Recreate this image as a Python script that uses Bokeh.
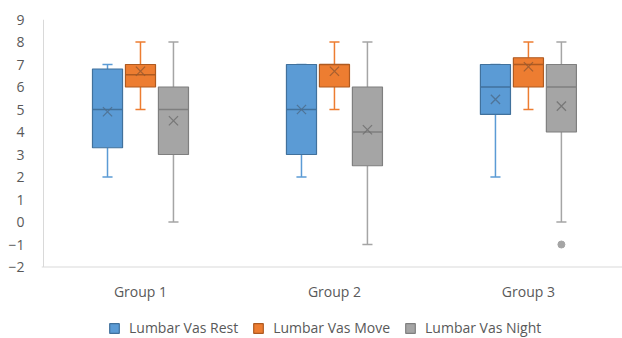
from bokeh.plotting import figure
from bokeh.models import Range1d, FixedTicker, Legend, LegendItem, Span
from bokeh.core.properties import value
from bokeh.embed import file_html
from bokeh.resources import INLINE

groups = ["Group 1", "Group 2", "Group 3"]
y_ticks = [9, 8, 7, 6, 5, 4, 3, 2, 1, 0, -1, -2]

rest_min = [2, 2, 2]
rest_q1 = [3.3, 3.0, 4.78]
rest_med = [5.0, 5.0, 6.0]
rest_q3 = [6.8, 7.0, 7.0]
rest_max = [7, 7, 7]
rest_mean = [4.9, 5.0, 5.45]

move_min = [5, 5, 5]
move_q1 = [6.0, 6.0, 6.0]
move_med = [6.55, 7.0, 7.0]
move_q3 = [7.0, 7.0, 7.3]
move_max = [8, 8, 8]
move_mean = [6.7, 6.7, 6.9]

night_min = [0, -1, 0]
night_q1 = [3.0, 2.5, 4.0]
night_med = [5.0, 4.0, 6.0]
night_q3 = [6.0, 6.0, 7.0]
night_max = [8, 8, 8]
night_mean = [4.5, 4.1, 5.15]
night_outlier_group = [2]
night_outlier_value = [-1]

series = [
    ("Lumbar Vas Rest", rest_min, rest_q1, rest_med, rest_q3, rest_max, rest_mean,
     "#5B9BD5", "#41719C", "#4E6E8E"),
    ("Lumbar Vas Move", move_min, move_q1, move_med, move_q3, move_max, move_mean,
     "#ED7D31", "#AE5A21", "#9A5A30"),
    ("Lumbar Vas Night", night_min, night_q1, night_med, night_q3, night_max, night_mean,
     "#A5A5A5", "#7F7F7F", "#707070"),
]

offsets = [-0.17, 0.0, 0.17]
box_w = 0.155
cap_w = 0.052
y_min, y_max = y_ticks[-1], y_ticks[0]
label_y = -3.07          # data position of the category labels below the axis
font = "Open Sans"
label_color = "#595959"
axis_color = "#D9D9D9"

# frame spans 41..622 px horizontally and 19..338 px vertically (22.5 px per unit)
p = figure(width=622, height=338, output_backend="svg", toolbar_location=None,
           x_range=Range1d(-0.0103, 2.985), y_range=Range1d(9 - 319 / 22.5, 9),
           min_border_left=41, min_border_right=0, min_border_top=19, min_border_bottom=0)
p.outline_line_color = None
p.xgrid.visible = False
p.ygrid.visible = False
p.xaxis.visible = False

p.yaxis.ticker = FixedTicker(ticks=y_ticks)
p.yaxis.major_tick_line_color = None
p.yaxis.minor_tick_line_color = None
p.yaxis.axis_line_color = None
p.yaxis.major_label_text_font = font
p.yaxis.major_label_text_font_size = "14px"
p.yaxis.major_label_text_color = label_color
p.yaxis.major_label_standoff = 11

# axis lines
p.add_layout(Span(location=y_min, dimension="width", line_color=axis_color, line_width=1))
p.segment(x0=[0], y0=[y_min], x1=[0], y1=[y_max], line_color=axis_color, line_width=1)

centers = [i + 0.5 for i in range(len(groups))]
p.text(x=centers, y=[label_y] * len(groups), text=groups, text_align="center",
       text_baseline="middle", text_font=value(font), text_font_size="14px",
       text_color=label_color)

items = []
for k, (name, mn, q1, md, q3, mx, mean, fill, edge, dark) in enumerate(series):
    xs = [c + offsets[k] for c in centers]
    p.segment(x0=xs, y0=q3, x1=xs, y1=mx, line_color=fill, line_width=1.5)
    p.segment(x0=xs, y0=q1, x1=xs, y1=mn, line_color=fill, line_width=1.5)
    p.segment(x0=[x - cap_w / 2 for x in xs], y0=mx, x1=[x + cap_w / 2 for x in xs], y1=mx,
              line_color=fill, line_width=1.5)
    p.segment(x0=[x - cap_w / 2 for x in xs], y0=mn, x1=[x + cap_w / 2 for x in xs], y1=mn,
              line_color=fill, line_width=1.5)
    r = p.vbar(x=xs, width=box_w, bottom=q1, top=q3, fill_color=fill, line_color=edge, line_width=1.2)
    p.segment(x0=[x - box_w / 2 for x in xs], y0=md, x1=[x + box_w / 2 for x in xs], y1=md,
              line_color=edge, line_width=1.5)
    p.scatter(x=xs, y=mean, marker="x", size=13, line_color=dark, line_width=1.3, line_alpha=0.85)
    items.append(LegendItem(label=name, renderers=[r]))

ox = [centers[g] + offsets[2] for g in night_outlier_group]
p.scatter(x=ox, y=night_outlier_value, marker="circle", size=7, fill_color="#A5A5A5",
          line_color="#A5A5A5")

legend = Legend(items=items, orientation="horizontal", location=(67, 1),
                glyph_width=12, glyph_height=12, label_standoff=9, spacing=14,
                padding=0, margin=0, border_line_color=None, background_fill_alpha=0,
                label_text_font=font, label_text_font_size="14px", label_text_color=label_color)
p.add_layout(legend, "center")

open("out.html", "w").write(file_html(p, INLINE))
